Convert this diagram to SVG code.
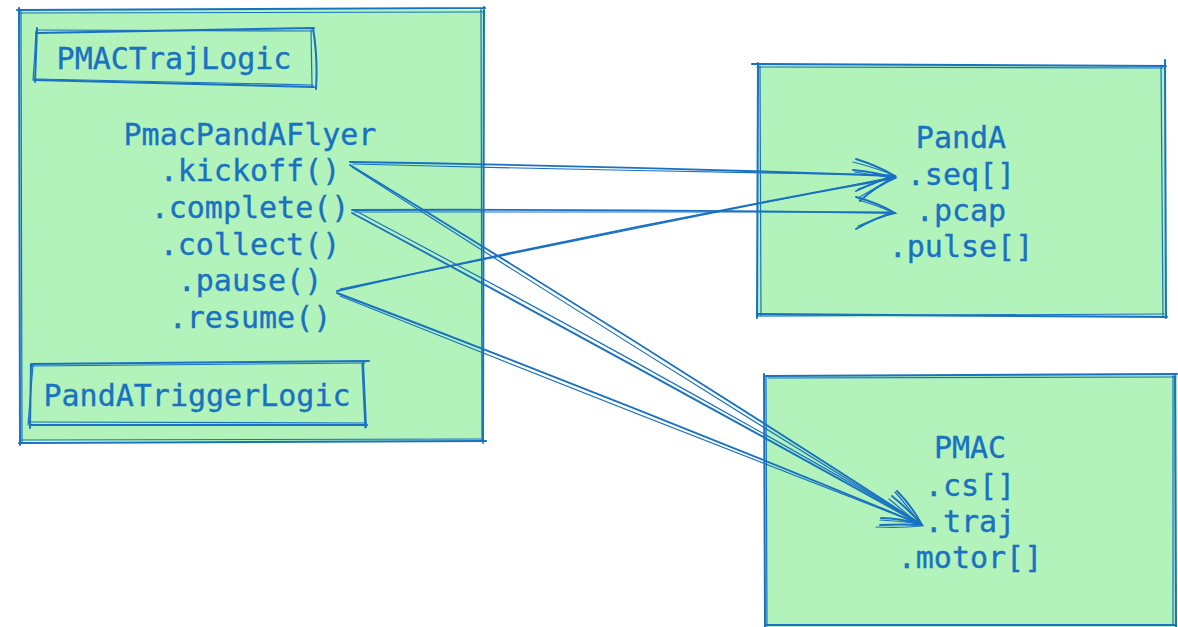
<svg xmlns="http://www.w3.org/2000/svg" width="1178" height="627" viewBox="0 0 1178 627">
  <style>
    .fill { fill: #b2f2bb; stroke: none; }
    .rough { fill: none; stroke: #1971c2; stroke-width: 2; stroke-linecap: round; stroke-linejoin: round; }
    .thin { fill: none; stroke: #1971c2; stroke-width: 1.2; stroke-linecap: round; }
    .label { font-family: "DejaVu Sans Mono", "Liberation Mono", monospace; font-size: 30px; fill: #1971c2; stroke: #1971c2; stroke-width: 0.35; text-anchor: middle; }
    .wire { fill: none; stroke: #1971c2; stroke-width: 1.9; stroke-linecap: round; }
    .wire2 { fill: none; stroke: #1971c2; stroke-width: 1.2; stroke-linecap: round; }
  </style>

  <rect width="1178" height="627" fill="#ffffff"/>

  <!-- flyer container with its two logic boxes -->
  <g id="flyer">
    <rect class="fill" x="20" y="10" width="463" height="431"/>
    <path class="rough" d="M17,10 L485,8 M484,7 L483,443 M486,441 L19,443 M20,445 L19,8"/>
    <path class="thin" d="M20,13 L483,12 M481,9 L482,440 M483,439 L21,440 M22,442 L21,11"/>
    <text class="label" x="250" y="145">PmacPandAFlyer</text>
    <text class="label" x="250" y="181">.kickoff()</text>
    <text class="label" x="250" y="218">.complete()</text>
    <text class="label" x="250" y="255">.collect()</text>
    <text class="label" x="250" y="291">.pause()</text>
    <text class="label" x="250" y="328">.resume()</text>
  </g>

  <g id="pmac-traj-logic">
    <path class="rough" d="M36,33 L314,28 M313,28 Q318,58 316,89 M314,87 L34,80 M35,82 L37,28"/>
    <path class="thin" d="M38,30 L312,31 M311,30 L312,86 M313,85 L36,79 M33,80 Q35,55 36,31"/>
    <text class="label" x="174" y="69">PMACTrajLogic</text>
  </g>

  <g id="panda-trigger-logic">
    <path class="rough" d="M32,364 L369,361 M363,362 L366,427 M367,425 L30,425 M30,428 L31,364"/>
    <path class="thin" d="M30,366 L365,363 M362,364 L365,428 M364,423 L29,422 M28,425 L33,365"/>
    <text class="label" x="197" y="406">PandATriggerLogic</text>
  </g>

  <!-- PandA device -->
  <g id="panda">
    <rect class="fill" x="757" y="65" width="408" height="252"/>
    <path class="rough" d="M752,64 L1166,66 M1165,60 L1166,318 M1167,317 L758,314 M757,318 L758,63"/>
    <path class="thin" d="M757,67 L1163,68 M1161,65 L1163,316 M1164,314 L757,316 M761,315 L760,66"/>
    <text class="label" x="961" y="148">PandA</text>
    <text class="label" x="961" y="185">.seq[]</text>
    <text class="label" x="961" y="221">.pcap</text>
    <text class="label" x="961" y="257">.pulse[]</text>
  </g>

  <!-- PMAC device -->
  <g id="pmac">
    <rect class="fill" x="765" y="375" width="412" height="252"/>
    <path class="rough" d="M766,376 L1177,374 M1175,374 L1176,627 M1176,625 L766,625 M765,627 L764,374"/>
    <path class="thin" d="M768,378 L1176,377 M1173,376 L1173,625 M767,626 L766,377"/>
    <text class="label" x="970" y="458">PMAC</text>
    <text class="label" x="970" y="496">.cs[]</text>
    <text class="label" x="970" y="532">.traj</text>
    <text class="label" x="970" y="568">.motor[]</text>
  </g>

  <!-- connectors: method calls into device signals -->
  <g id="connectors">
    <!-- kickoff -> seq -->
    <path class="wire" d="M350,162 Q620,166 895,176"/>
    <path class="wire2" d="M353,164 Q625,171 893,175"/>
    <path class="wire" d="M856,159 Q878,166 895,176 Q877,181 856,191"/>
    <path class="wire2" d="M853,162 Q876,168 893,175 Q875,184 858,189"/>

    <!-- pause -> seq -->
    <path class="wire" d="M337,291 Q615,228 895,178"/>
    <path class="wire2" d="M340,289 Q615,232 893,177"/>
    <path class="wire" d="M853,170 Q875,172 895,178 Q876,186 860,201"/>
    <path class="wire2" d="M855,172 Q874,175 892,178 Q874,189 858,198"/>

    <!-- complete -> pcap -->
    <path class="wire" d="M352,210 Q620,209 895,213"/>
    <path class="wire2" d="M354,212 Q625,211 893,212"/>
    <path class="wire" d="M856,197 Q878,203 895,213 Q876,217 856,229"/>
    <path class="wire2" d="M859,200 Q876,205 892,212 Q874,220 858,226"/>

    <!-- kickoff -> traj -->
    <path class="wire" d="M350,165 Q640,342 922,525"/>
    <path class="wire2" d="M352,167 Q632,347 920,524"/>

    <!-- complete -> traj -->
    <path class="wire" d="M352,213 Q640,368 922,525"/>
    <path class="wire2" d="M354,210 Q645,364 920,523"/>

    <!-- pause -> traj -->
    <path class="wire" d="M337,293 Q630,404 922,525"/>
    <path class="wire2" d="M340,296 Q628,411 920,524"/>

    <!-- traj arrowheads -->
    <path class="wire" d="M897,491 Q912,506 922,525 Q900,518 881,518"/>
    <path class="wire2" d="M895,492 Q910,509 920,524 Q901,521 880,520"/>
    <path class="wire" d="M892,496 Q909,510 922,525 Q900,524 880,525"/>
    <path class="wire2" d="M889,499 Q905,512 921,526 Q902,528 876,527"/>
  </g>
</svg>
